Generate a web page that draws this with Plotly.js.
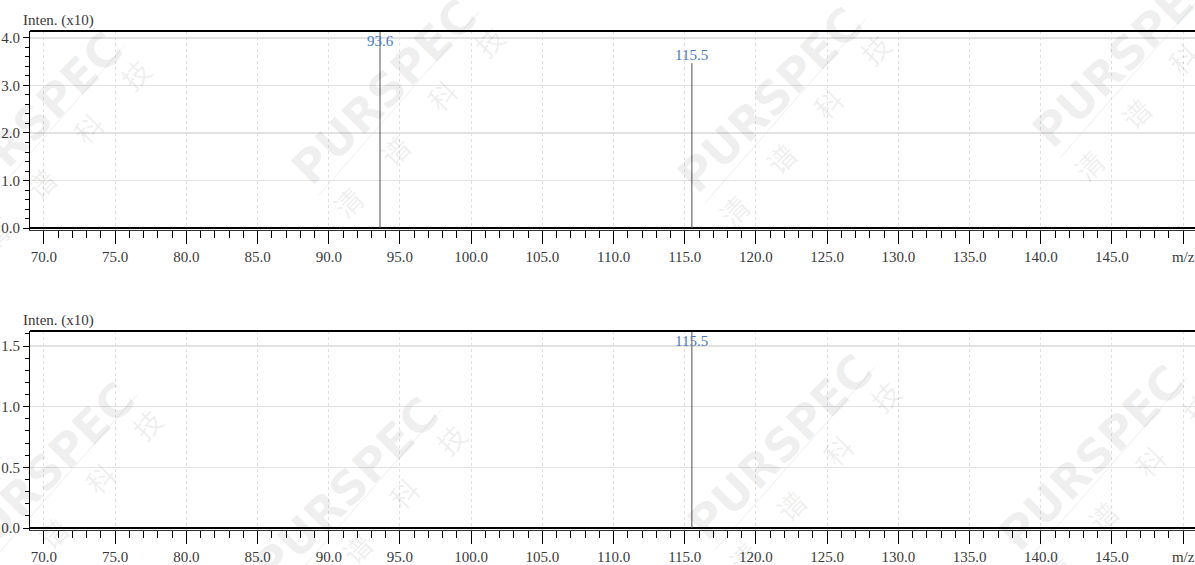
<!DOCTYPE html>
<html>
<head>
<meta charset="utf-8">
<script src="https://cdn.plot.ly/plotly-3.0.1.min.js"></script>
<style>
  html, body { margin: 0; padding: 0; background: #ffffff; }
  #chart { width: 1195px; height: 565px; }
</style>
</head>
<body>
<div id="chart"></div>
<script>
// ---------- data ----------
const topMz = [93.6, 115.5];
const topIntensity = [4.25, 3.47];
const bottomMz = [115.5];
const bottomIntensity = [1.65];

const xTickVals = [70, 75, 80, 85, 90, 95, 100, 105, 110, 115, 120, 125, 130, 135, 140, 145, 150];
const xTickText = ['70.0', '75.0', '80.0', '85.0', '90.0', '95.0', '100.0', '105.0', '110.0', '115.0',
                   '120.0', '125.0', '130.0', '135.0', '140.0', '145.0', 'm/z'];
const topYTicks = [0, 1, 2, 3, 4];
const bottomYTicks = [0, 0.5, 1.0, 1.5];
const yTitle = 'Inten. (x10)';

// watermark tiles (pixel centres) – decoration only
const watermarkTiles = [[30, 125], [384, 92], [770, 100], [1125, 55],
                        [42, 475], [346, 490], [780, 447], [1092, 458]];
const watermarkChars = ['清', '谱', '科', '技'];

// ---------- helpers ----------
const W = 1195, H = 565;
const px = x => x / W;
const py = y => 1 - y / H;

function stickTrace(mz, inten, xa, ya) {
  const xs = [], ys = [];
  mz.forEach((m, i) => { xs.push(m, m, null); ys.push(0, inten[i], null); });
  return { x: xs, y: ys, xaxis: xa, yaxis: ya, type: 'scatter', mode: 'lines',
           line: { color: '#505050', width: 1 }, hoverinfo: 'skip', showlegend: false };
}

const FONT = 'Liberation Serif, DejaVu Serif, serif';
const tickFont = { family: FONT, size: 15, color: '#3a3a3a' };
const labelFont = { family: FONT, size: 15, color: '#4a78c8' };

const xRange = [69.02, 150.83];
const topRange = [-0.042, 4.147];
const bottomRange = [-0.0165, 1.624];

function xAxis(anchor) {
  return {
    anchor: anchor, domain: [30 / W, 1], range: xRange,
    tickmode: 'array', tickvals: xTickVals, ticktext: xTickText,
    ticks: 'outside', ticklen: 13, tickwidth: 1, tickcolor: '#000',
    tickfont: tickFont, ticklabeloverflow: 'allow',
    showline: true, linecolor: '#333', linewidth: 1,
    showgrid: true, gridcolor: '#e0e0e0', gridwidth: 1, griddash: 'dot',
    zeroline: false,
    minor: { tick0: 70, dtick: 1, ticks: 'outside', ticklen: 7, tickcolor: '#000', tickwidth: 1, showgrid: false },
    fixedrange: true
  };
}
function yAxis(anchor, domain, range, tickvals, minorStep) {
  return {
    anchor: anchor, domain: domain, range: range,
    tickmode: 'array', tickvals: tickvals, ticktext: tickvals.map(v => v.toFixed(1)),
    ticks: 'outside', ticklen: 6, tickwidth: 1, tickcolor: '#000',
    tickfont: tickFont, ticklabeloverflow: 'allow',
    showline: true, linecolor: '#000', linewidth: 1,
    showgrid: true, gridcolor: '#e2e2e2', gridwidth: 1.5,
    zeroline: true, zerolinecolor: '#000', zerolinewidth: 2,
    minor: { tick0: 0, dtick: minorStep, ticks: 'outside', ticklen: 4, tickcolor: '#000', tickwidth: 1, showgrid: false },
    fixedrange: true
  };
}

const data = [
  stickTrace(topMz, topIntensity, 'x', 'y'),
  stickTrace(bottomMz, bottomIntensity, 'x2', 'y2')
];

const annotations = [];
const shapes = [];

// watermark
watermarkTiles.forEach(([cx, cy]) => {
  annotations.push({
    xref: 'paper', yref: 'paper', x: px(cx), y: py(cy), text: 'PURSPEC', showarrow: false,
    textangle: -45, xanchor: 'center', yanchor: 'middle',
    font: { family: 'DejaVu Sans, sans-serif', size: 46, weight: 'bold', color: 'rgba(0,0,0,0.065)' }
  });
  const offs = [[-36, 110], [11, 58], [58, 3], [105, -51]];
  watermarkChars.forEach((c, i) => {
    annotations.push({
      xref: 'paper', yref: 'paper', x: px(cx + offs[i][0]), y: py(cy + offs[i][1]), text: c, showarrow: false,
      textangle: -45, xanchor: 'center', yanchor: 'middle',
      font: { family: 'Noto Sans CJK SC, sans-serif', size: 28, color: 'rgba(0,0,0,0.08)' }
    });
  });
  shapes.push({
    type: 'line', xref: 'paper', yref: 'paper', layer: 'below',
    x0: px(cx - 65), y0: py(cy + 103), x1: px(cx + 95), y1: py(cy - 80),
    line: { color: 'rgba(0,0,0,0.07)', width: 1 }
  });
});

// peak labels
function peakLabels(mz, inten, xa, ya, yTop) {
  mz.forEach((m, i) => {
    const clipped = inten[i] > yTop;
    annotations.push({
      xref: xa, yref: ya, x: m, y: clipped ? yTop : inten[i],
      text: m.toFixed(1), showarrow: false, xanchor: 'center',
      yanchor: clipped ? 'top' : 'bottom', yshift: clipped ? 0 : -2,
      font: labelFont
    });
  });
}
peakLabels(topMz, topIntensity, 'x', 'y', topRange[1]);
peakLabels(bottomMz, bottomIntensity, 'x2', 'y2', bottomRange[1]);

// axis titles
annotations.push({ xref: 'paper', yref: 'paper', x: px(21), y: py(31), xanchor: 'left', yanchor: 'bottom',
  text: yTitle, showarrow: false, font: tickFont });
annotations.push({ xref: 'paper', yref: 'paper', x: px(21), y: py(331), xanchor: 'left', yanchor: 'bottom',
  text: yTitle, showarrow: false, font: tickFont });

// top borders
shapes.push({ type: 'line', xref: 'x domain', yref: 'y domain', x0: 0, x1: 1, y0: 1, y1: 1,
  line: { color: '#000', width: 2 } });
shapes.push({ type: 'line', xref: 'x2 domain', yref: 'y2 domain', x0: 0, x1: 1, y0: 1, y1: 1,
  line: { color: '#000', width: 2 } });

const layout = {
  width: W, height: H,
  margin: { l: 0, r: 0, t: 0, b: 0 },
  paper_bgcolor: '#ffffff', plot_bgcolor: 'rgba(0,0,0,0)',
  showlegend: false,
  xaxis: xAxis('y'),
  yaxis: yAxis('x', [py(230), py(31)], topRange, topYTicks, 0.2),
  xaxis2: xAxis('y2'),
  yaxis2: yAxis('x2', [py(530), py(331)], bottomRange, bottomYTicks, 0.1),
  annotations: annotations,
  shapes: shapes
};

Plotly.newPlot('chart', data, layout, { displayModeBar: false, staticPlot: true });
</script>
</body>
</html>
